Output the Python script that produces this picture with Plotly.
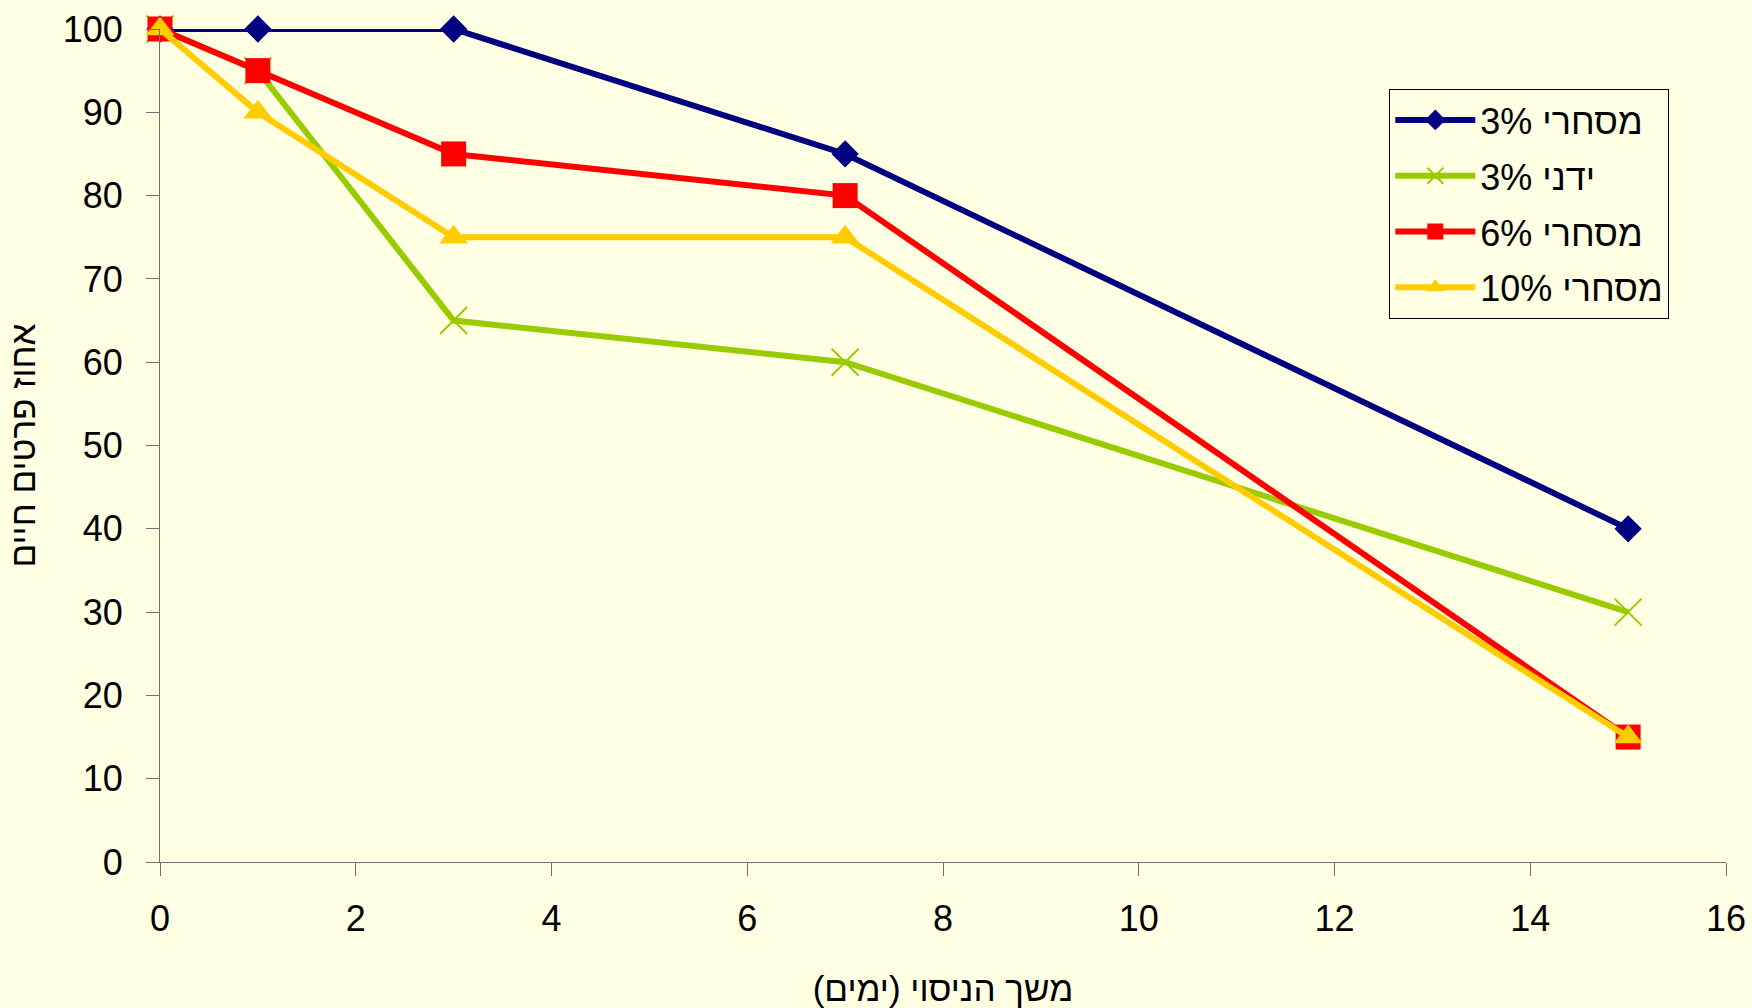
import plotly.graph_objects as go

days = [0, 1, 3, 7, 15]
series_names = ["מסחרי 3%", "ידני 3%", "מסחרי 6%", "מסחרי 10%"]
comm3 = [100, 100, 100, 85, 40]
hand3 = [100, 95, 65, 60, 30]
comm6 = [100, 95, 85, 80, 15]
comm10 = [100, 90, 75, 75, 15]

x_title = "\u200fמשך הניסוי (ימים)\u200f"
y_title = "אחוז פרטים חיים"

BG = "#FFFFE3"
FONT = "Liberation Sans, Arial, sans-serif"

styles = [
    dict(color="#000080", symbol="diamond", size=21, lw=0),
    dict(color="#99CC00", symbol="x-thin", size=27, lw=2),
    dict(color="#FF0000", symbol="square", size=25, lw=0),
    dict(color="#FFCC00", symbol="triangle-up", size=25, lw=0),
]

fig = go.Figure()
for i, (name, vals, st) in enumerate(zip(series_names, [comm3, hand3, comm6, comm10], styles)):
    fig.add_trace(go.Scatter(
        x=days, y=vals, name=name, mode="lines+markers",
        line=dict(color=st["color"], width=6),
        marker=dict(symbol=st["symbol"], size=st["size"], color=st["color"],
                    line=dict(color=st["color"], width=st["lw"])),
        cliponaxis=False, legendgroup=f"g{i}",
    ))

fig.update_layout(
    width=1752, height=1008,
    paper_bgcolor=BG, plot_bgcolor=BG,
    margin=dict(l=160, r=26, t=29, b=146, autoexpand=False),
    font=dict(family=FONT, size=36, color="black"),
    showlegend=True,
    legend=dict(
        x=0.785, y=0.928, xanchor="left", yanchor="top",
        bgcolor=BG, bordercolor="black", borderwidth=1,
        font=dict(size=36), itemwidth=80, tracegroupgap=6,
        traceorder="grouped",
    ),
    xaxis=dict(
        range=[0, 16], dtick=2, tick0=0, showgrid=False, zeroline=False,
        showline=True, linecolor="#707070", linewidth=1,
        ticks="outside", ticklen=13, tickcolor="#707070",
        ticklabelstandoff=12, automargin=False,
        title=dict(text=x_title, font=dict(size=35), standoff=39),
    ),
    yaxis=dict(
        range=[0, 100], dtick=10, tick0=0, showgrid=False, zeroline=False,
        showline=True, linecolor="#707070", linewidth=1,
        ticks="outside", ticklen=13, tickcolor="#707070",
        ticklabelstandoff=16, automargin=False,
        title=dict(text=y_title, font=dict(size=35), standoff=16),
    ),
)

fig.write_html(
    "out.html",
    config={"displayModeBar": False},
    post_script="document.body.style.margin='0';document.body.style.background='" + BG + "';",
)
